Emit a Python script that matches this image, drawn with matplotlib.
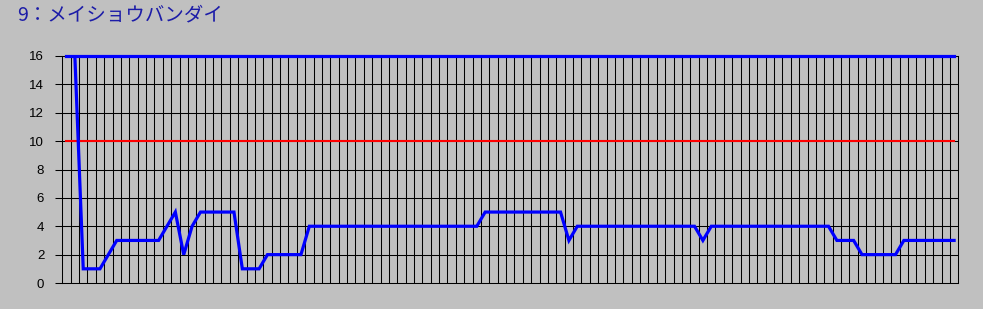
import matplotlib
matplotlib.use("Agg")
import matplotlib.pyplot as plt
import numpy as np

# race-by-race values, column 1 onward (column 0 empty)
title = "9：メイショウバンダイ"
values = [16, 1, 1, 1, 2, 3, 3, 3, 3, 3, 3, 4, 5, 2, 4, 5, 5, 5, 5, 5,
          1, 1, 1, 2, 2, 2, 2, 2,
          4, 4, 4, 4, 4, 4, 4, 4, 4, 4, 4, 4, 4, 4, 4, 4, 4, 4, 4, 4, 4,
          5, 5, 5, 5, 5, 5, 5, 5, 5, 5,
          3,
          4, 4, 4, 4, 4, 4, 4, 4, 4, 4, 4, 4, 4, 4, 4,
          3,
          4, 4, 4, 4, 4, 4, 4, 4, 4, 4, 4, 4, 4, 4, 4,
          3, 3, 3,
          2, 2, 2, 2, 2,
          3, 3, 3, 3, 3, 3, 3]
n_cols = 107
upper = 16
limit = 10
yticks = [0, 2, 4, 6, 8, 10, 12, 14, 16]

bg = "#c0c0c0"
fig = plt.figure(figsize=(9.83, 3.09), dpi=100, facecolor=bg)
ax = fig.add_axes([62.3 / 983, 1 - 283 / 309, 896 / 983, 227 / 309])
ax.set_facecolor(bg)

ax.set_xlim(-0.5, n_cols - 0.5)
ax.set_ylim(0, 16)

# grid
for k in range(1, n_cols):
    ax.axvline(k - 0.5, color="black", lw=0.75, zorder=1)
for y in yticks[1:-1]:
    ax.axhline(y, color="black", lw=0.75, zorder=1)

ax.plot([0, n_cols - 1], [limit, limit], color="#ff0000", lw=1.5, zorder=2)
ax.plot([0, n_cols - 1], [upper, upper], color="#0000ff", lw=2.3, zorder=3, clip_on=False)

xs = np.arange(1, len(values) + 1)
ax.plot(xs, values, color="#0000ff", lw=2.3, zorder=4, solid_joinstyle="miter")

ax.set_yticks(yticks)
ax.set_xticks([])
ax.tick_params(axis="y", length=5, width=0.75, color="black", pad=8,
               labelsize=9.5, labelcolor="black")
for lab in ax.get_yticklabels():
    lab.set_family("Liberation Sans")
for s in ["left", "bottom", "right", "top"]:
    ax.spines[s].set_color("black")
    ax.spines[s].set_linewidth(0.75)

fig.text(17 / 983, 1 - 20 / 309, title, color="#1c1ca8", fontsize=14,
         family=["Noto Sans CJK JP", "DejaVu Sans"], va="baseline", ha="left")

fig.savefig("out.png", dpi=100, facecolor=bg)
